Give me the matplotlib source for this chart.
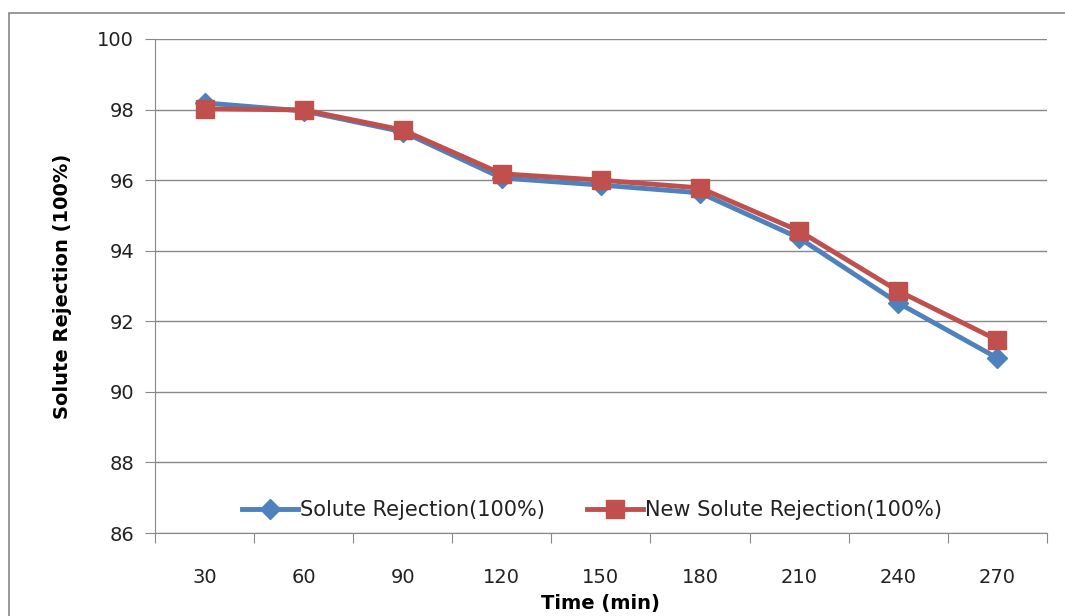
import matplotlib.pyplot as plt
from matplotlib.patches import Rectangle

times = ['30', '60', '90', '120', '150', '180', '210', '240', '270']
solute = [98.19, 97.96, 97.37, 96.06, 95.86, 95.64, 94.36, 92.52, 90.96]
new_solute = [98.02, 97.99, 97.42, 96.18, 96.0, 95.78, 94.56, 92.86, 91.47]

plt.rcParams['font.family'] = ['DejaVu Sans']

fig = plt.figure(figsize=(10.65, 6.16), dpi=100)
ax = fig.add_axes([0.1455, 0.1347, 0.8375, 0.802])

# outer chart border
fig.patches.append(Rectangle((9 / 1065, -0.01), 1.1, 0.989, transform=fig.transFigure,
                             fill=False, edgecolor='#888888', linewidth=1.2))

x = list(range(len(times)))
ax.plot(x, solute, color='#4F81BD', lw=3.5, marker='D', markersize=10,
        label='Solute Rejection(100%)', zorder=3)
ax.plot(x, new_solute, color='#C0504D', lw=3.5, marker='s', markersize=13,
        label='New Solute Rejection(100%)', zorder=4)

ax.set_ylim(86, 100)
ax.set_yticks(range(86, 101, 2))
ax.set_xlim(-0.5, len(times) - 0.5)
ax.set_xticks([i - 0.5 for i in range(len(times) + 1)])
ax.set_xticklabels([])
ax.set_xticks(x, minor=True)
ax.set_xticklabels(times, minor=True)
ax.tick_params(axis='x', which='minor', length=0, pad=25, labelsize=14, labelcolor='#222222')
ax.tick_params(axis='x', which='major', length=7, color='#888888', direction='out')
ax.tick_params(axis='y', length=7, color='#888888', labelsize=14, pad=8, labelcolor='#222222')

ax.grid(axis='y', color='#888888', linewidth=1)
ax.set_axisbelow(True)
for s in ['top', 'right']:
    ax.spines[s].set_visible(False)
for s in ['left', 'bottom']:
    ax.spines[s].set_color('#888888')

ax.set_xlabel('Time (min)', fontsize=14, fontweight='bold', labelpad=5)
ax.set_ylabel('Solute Rejection (100%)', fontsize=14, fontweight='bold', labelpad=18)

ax.legend(loc='lower center', bbox_to_anchor=(0.49, -0.012), ncol=2, frameon=False,
          fontsize=15, handlelength=2.7, handletextpad=0.1, columnspacing=2.0,
          labelcolor='#222222')

fig.savefig('out.png', dpi=100)
